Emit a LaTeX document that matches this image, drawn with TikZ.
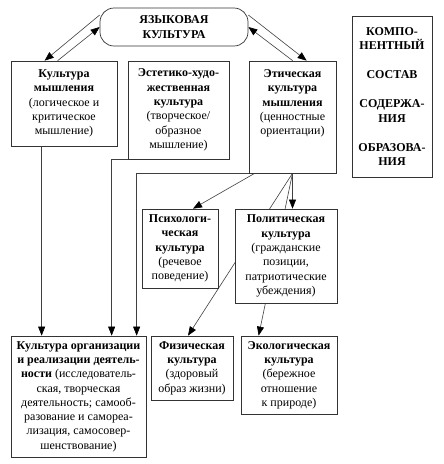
\documentclass[tikz,border=0pt]{standalone}
\usepackage{fontspec}
\setmainfont{Liberation Serif}
\usetikzlibrary{arrows.meta,calc,backgrounds}
\begin{document}
\begin{tikzpicture}[x=1pt,y=1pt,
  fnt/.style={font=\fontsize{12}{14.3}\selectfont},
  box/.style={fnt, draw=black!80, line width=0.7pt, fill=white, align=center, inner sep=0pt},
  txt/.style={fnt, align=center, inner sep=0pt},
  arr/.style={draw=black!75, line width=0.6pt, -{Triangle[length=9pt,width=7pt,color=black]}}]
\useasboundingbox (0,0) rectangle (444,-464);

\node[box, minimum width=148, minimum height=38, rounded corners=14pt] (lang) at (174,-27)
  {\textbf{ЯЗЫКОВАЯ}\\\textbf{КУЛЬТУРА}};

\node[box, minimum width=106, minimum height=85] (km) at (64,-103.5)
  {\textbf{Культура}\\\textbf{мышления}\\(логическое и\\критическое\\мышление)};

\node[box, minimum width=101, minimum height=98] (est) at (178.5,-110)
  {\textbf{Эстетико-худо-}\\\textbf{жественная}\\\textbf{культура}\\(творческое/\\образное\\мышление)};

\node[box, minimum width=87, minimum height=112] (eth) at (292.5,-117) {};
\node[txt] (etht) at (292.5,-103.5)
  {\textbf{Этическая}\\\textbf{культура}\\\textbf{мышления}\\(ценностные\\ориентации)};

\node[box, minimum width=80, minimum height=161] (comp) at (392,-96.5)
  {\textbf{КОМПО-}\\\textbf{НЕНТНЫЙ}\\[15pt]\textbf{СОСТАВ}\\[15pt]\textbf{СОДЕРЖА-}\\\textbf{НИЯ}\\[15pt]\textbf{ОБРАЗОВА-}\\\textbf{НИЯ}};

\node[box, minimum width=76, minimum height=79] (psy) at (180,-248.5)
  {\textbf{Психологи-}\\\textbf{ческая}\\\textbf{культура}\\(речевое\\поведение)};

\node[box, minimum width=102, minimum height=94] (pol) at (286,-256)
  {\textbf{Политическая}\\\textbf{культура}\\(гражданские\\позиции,\\патриотические\\убеждения)};

\node[box, minimum width=135, minimum height=121] (org) at (78.5,-396.5)
  {\textbf{Культура организации}\\\textbf{и реализации деятель-}\\\textbf{ности} (исследователь-\\ская, творческая\\деятельность; самооб-\\разование и самореа-\\лизация, самосовер-\\шенствование)};

\node[box, minimum width=82, minimum height=64] (fiz) at (192,-368)
  {\textbf{Физическая}\\\textbf{культура}\\(здоровый\\образ жизни)};

\node[box, minimum width=96, minimum height=78] (eco) at (289,-375)
  {\textbf{Экологическая}\\\textbf{культура}\\(бережное\\отношение\\к природе)};

\begin{pgfonlayer}{background}
\fill[white] (0,0) rectangle (444,-464);
\draw[arr] ($(lang.west)+(0,12)$) -- ($(km.north west)+(34,0)$);
\draw[arr] ($(km.north west)+(47,0)$) -- (lang.west);
\draw[arr] ($(lang.east)+(0,12)$) -- ($(eth.north west)+(58,0)$);
\draw[arr] ($(eth.north west)+(44,0)$) -- (lang.east);
\draw[arr] ($(km.south west)+(31,0)$) -- ($(org.north west)+(31,0)$);
\draw[arr] (est.south west) -| ($(org.north west)+(101,0)$);
\draw[arr] (eth.south west) -| ($(org.north west)+(126,0)$);
\draw[arr] ($(eth.south west)+(6,0)$) -- ($(psy.north)+(13,0)$);
\draw[arr] (eth.south) -- (eth.south |- pol.north);
\draw[arr] (eth.south) -- ($(fiz.north)+(-4,0)$);
\draw[arr] (eth.south) -- ($(eco.north west)+(18,0)$);
\end{pgfonlayer}
\end{tikzpicture}
\end{document}
